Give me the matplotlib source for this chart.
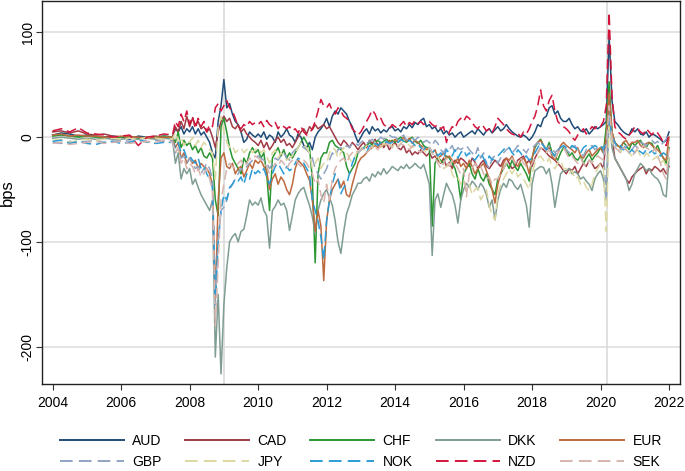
import numpy as np
import matplotlib
matplotlib.use("Agg")
import matplotlib.pyplot as plt

plt.rcParams['font.family'] = ['Liberation Sans', 'DejaVu Sans']

# time axis: quarterly 2004.0-2007.25, monthly 2007.5-2022.0
dates = np.r_[2004 + 0.25 * np.arange(14), 2007.5 + np.arange(175) / 12]

AUD = [2, 4, 3, 1, 2, 1, 0, 1, 0, -2, 1, 0, -1, 1,
       0, 8, 5, 10, 3, 8,
       5, 10, 3, 8, 2, 5, 0, -5, -15, -20, 15, 30,
       55, 28, 32, 22, 15, 12, 5, -5, -2, 5, 2, 0,
       3, 0, 5, -2, 2, 0, -5, 5, 0, 3, 8, 2,
       0, -5, 3, 0, -8, -10, -5, -12, 0, 5, 8, 12,
       18, 10, 20, 25, 22, 28, 25, 22, 15, 10, 2, -5,
       0, 5, 8, 3, 10, 6, 8, 4, 7, 5, 9, 10,
       6, 8, 5, 10, 8, 12, 9, 14, 12, 16, 18, 10,
       12, 8, 10, 5, 8, 3, 6, 2, 4, 0, 3, 5,
       0, 2, 4, 6, 3, 8, 5, 2, 6, 8, 4, 7,
       10, 6, 8, 12, 8, 5, 3, 1, 0, 2, 0, -3,
       0, 5, 12, 10, 18, 20, 28, 30, 22, 25, 18, 15,
       15, 18, 12, 8, 10, 6, 5, 8, 3, 6, 10, 8,
       10, 12, 15, 97, 35, 15, 12, 8, 5, 3, 2, 8,
       5, 8, 3, 2, 5, 0, 3, 2, 0, -2, -5, -3,
       5]

CAD = [5, 6, 4, 6, 3, 2, 3, 1, 0, 1, -1, 0, 1, 0,
       0, 10, 5, 15, 8, 20,
       10, 18, 12, 15, 8, 10, 5, 8, 0, -10, 5, 15,
       20, 15, 18, 10, 8, 12, 5, 8, 3, 0, -3, -5,
       -8, -3, -10, -5, -12, -8, -3, 0, -5, -2, -8, -6,
       -10, -5, 0, 5, 8, 3, 10, 7, 12, 8, 10, 12,
       8, 10, 5, 0, -5, -8, -3, -6, -10, -5, -8, -12,
       -8, -5, -10, -3, -6, -2, -8, -5, -10, -6, -12, -8,
       -5, -10, -12, -8, -15, -12, -17, -14, -16, -12, -15, -18,
       -15, -20, -18, -22, -25, -20, -28, -24, -30, -22, -25, -20,
       -22, -25, -28, -20, -24, -30, -25, -22, -28, -30, -26, -22,
       -25, -28, -22, -20, -25, -30, -28, -22, -20, -18, -25, -22,
       -28, -20, -15, -10, -12, -15, -18, -20, -22, -25, -28, -32,
       -35, -30, -32, -28, -35, -30, -25, -28, -22, -25, -30, -28,
       -25, -30, 0, 35, 0, -20, -25, -30, -35, -40, -44, -38,
       -35, -32, -30, -28, -35, -30, -32, -28, -30, -33, -30, -35,
       -28]

CHF = [1, 2, 1, 0, 1, 0, 0, -1, 0, 0, -1, 0, 0, 1,
       0, -5, 5, -10, -3, -8,
       -5, -12, -8, -15, -10, -18, -20, -15, -20, -60, -75, 10,
       18, 5, -10, -20, -25, -30, -35, -20, -25, -15, -10, -15,
       -12, -20, -15, -35, -70, -20, -15, -10, -18, -12, -20, -15,
       -20, -15, -10, -5, 0, -5, -10, -40, -120, -35, -20, -15,
       -15, -5, -3, -8, -10, -12, -15, -28, -35, -30, -25, -15,
       -12, -10, -8, -5, -8, -5, -3, -6, -4, -2, -5, -3,
       -5, -2, 0, -3, -5, -2, 0, -4, -6, -3, -8, -10,
       -10, -85, -25, -20, -22, -25, -18, -20, -25, -30, -40, -60,
       -35, -30, -25, -35, -40, -30, -38, -42, -35, -45, -50, -55,
       -40, -35, -30, -25, -30, -22, -28, -32, -25, -30, -35, -42,
       -20, -10, -5, -2, -8, -12, -5, -15, -18, -22, -15, -10,
       -12, -18, -15, -20, -22, -18, -25, -20, -16, -22, -18, -15,
       -10, -15, 10, 53, 5, -5, -8, -10, -5, -8, -12, -5,
       -8, -5, -3, -8, -10, -5, -6, -12, -8, -15, -20, -25,
       -10]

DKK = [-1, 0, -1, -2, -1, -2, -1, -2, -2, -1, -2, -1, -2, -1,
       -2, -25, -15, -40, -30, -35,
       -30, -45, -40, -48, -55, -60, -65, -70, -60, -210, -150, -226,
       -160, -125, -100, -95, -92, -100, -90, -88, -75, -60, -65, -62,
       -65, -58, -70, -75, -106, -70, -66, -60, -65, -63, -70, -89,
       -75, -60, -54, -50, -48, -57, -65, -76, -92, -70, -60, -54,
       -50, -58, -65, -80, -100, -111, -90, -73, -65, -55, -50, -44,
       -44, -40, -38, -42, -35, -38, -33, -36, -30, -35, -32, -28,
       -30, -32, -28, -30, -26, -30, -28, -25, -28, -30, -26, -35,
       -45, -113, -60, -54, -67, -55, -44, -50, -55, -65, -82, -60,
       -50, -44, -48, -42, -45, -50, -44, -48, -55, -67, -60, -79,
       -60, -50, -44, -48, -40, -42, -47, -50, -45, -55, -65, -86,
       -45, -32, -30, -28, -29, -35, -30, -45, -67, -50, -35, -32,
       -32, -30, -35, -33, -35, -40, -38, -42, -45, -51, -40, -35,
       -32, -40, -60, 25, -10, -20, -25, -30, -35, -40, -51, -45,
       -35, -30, -25, -28, -32, -30, -35, -38, -40, -45, -55, -57,
       -20]

EUR = [2, 3, 1, 2, 1, 1, 0, 0, 1, 0, 0, -1, 0, 0,
       0, -10, -5, -20, -15, -25,
       -20, -25, -22, -30, -25, -28, -30, -35, -45, -156, -60, -20,
       -15, -28, -30, -25, -35, -30, -28, -38, -32, -25, -30, -22,
       -25, -22, -28, -32, -50, -40, -35, -45, -38, -42, -50, -55,
       -45, -30, -22, -25, -28, -35, -41, -60, -90, -70, -85, -137,
       -80, -60, -50, -45, -40, -48, -42, -55, -57, -45, -35, -25,
       -20, -18, -15, -12, -10, -8, -10, -6, -8, -5, -3, -5,
       -2, -5, -3, 0, -4, -1, -6, -3, -5, -8, -10, -12,
       -10, -15, -12, -20, -18, -15, -20, -18, -22, -25, -20, -28,
       -25, -30, -22, -28, -35, -30, -28, -25, -32, -40, -50, -63,
       -45, -35, -25, -20, -22, -18, -25, -28, -22, -20, -25, -35,
       -20, -8, -5, -3, -8, -12, -10, -18, -22, -15, -8, -5,
       -8, -10, -12, -15, -10, -18, -20, -15, -12, -18, -15, -12,
       -10, -15, 0, 42, 5, -5, -8, -10, -5, -3, -8, -5,
       -5, -3, -8, -10, -6, -5, -8, -10, -12, -15, -20, -22,
       0]

GBP = [-5, -6, -4, -5, -4, -3, -5, -4, -3, -4, -3, -5, -3, -4,
       -3, -15, -10, -20, -18, -25,
       -20, -25, -30, -28, -35, -30, -25, -30, -40, -150, -100, -70,
       -67, -60, -50, -45, -40, -35, -30, -32, -28, -25, -22, -20,
       -18, -20, -22, -25, -30, -25, -20, -22, -18, -15, -20, -22,
       -15, -12, -10, -8, -10, -12, -15, -20, -30, -35, -40, -35,
       -30, -22, -15, -18, -12, -10, -12, -8, -10, -6, -5, -8,
       -5, -3, -6, -4, -2, -5, -3, 0, -2, 0, 2, 0,
       0, -2, 0, 2, -3, 0, -1, -3, 0, -2, -5, -3,
       -5, -8, -3, -6, -12, -15, -10, -12, -8, -15, -10, -12,
       -10, -8, -12, -15, -18, -10, -20, -15, -25, -30, -20, -18,
       -25, -20, -15, -12, -10, -15, -12, -8, -10, -12, -15, -10,
       -10, -8, -5, -8, -10, -12, -8, -10, -15, -12, -10, -8,
       -12, -15, -10, -8, -12, -15, -18, -12, -10, -8, -12, -10,
       -8, -10, -60, 20, -5, -10, -8, -12, -10, -8, -10, -12,
       -8, -10, -5, -6, -8, -5, -3, -6, -4, -8, -5, -2,
       5]

JPY = [-3, -2, -5, -3, -2, -3, -2, -1, -2, -1, -2, 0, -1, -2,
       -2, 5, -5, 0, -8, -3,
       -5, 0, -8, -3, -10, -5, -8, -12, -15, -40, 10, 20,
       5, -5, -10, -8, -15, -12, -10, -15, -12, -10, -15, -12,
       -10, -15, -12, -18, -25, -15, -12, -20, -15, -18, -22, -20,
       -18, -15, -10, -5, -8, -10, -15, -30, -25, -20, -30, -25,
       -25, -15, -10, -12, -20, -15, -10, -15, -20, -25, -18, -12,
       -10, -12, -8, -6, -10, -5, -8, -10, -6, -8, -5, -10,
       -5, -8, -6, -3, -5, -8, -10, -6, -8, -10, -12, -15,
       -10, -15, -20, -18, -25, -30, -28, -25, -35, -40, -38, -45,
       -40, -50, -45, -55, -50, -48, -60, -55, -50, -65, -75, -79,
       -55, -45, -40, -35, -30, -35, -30, -38, -35, -40, -45, -50,
       -35, -25, -20, -18, -22, -25, -20, -28, -30, -25, -22, -30,
       -30, -35, -32, -40, -38, -45, -42, -48, -51, -45, -35, -30,
       -25, -28, -90, 10, -5, -10, -12, -15, -10, -12, -15, -18,
       -15, -12, -18, -20, -15, -18, -22, -20, -18, -25, -22, -28,
       -20]

NOK = [-4, -3, -6, -4, -6, -7, -5, -4, -6, -5, -3, -4, -6, -5,
       -5, -10, -5, -15, -12, -20,
       -18, -22, -25, -20, -30, -28, -35, -40, -48, -160, -100, -70,
       -55, -60, -48, -45, -40, -42, -38, -45, -35, -40, -30, -35,
       -32, -35, -30, -38, -45, -35, -28, -25, -30, -35, -28, -32,
       -30, -25, -20, -22, -25, -30, -35, -60, -70, -80, -95, -117,
       -80, -60, -45, -35, -40, -54, -48, -45, -35, -25, -18, -15,
       -12, -10, -15, -8, -10, -6, -8, -5, -7, -4, -6, -5,
       -3, -5, -2, -4, -6, -3, -5, -8, -6, -10, -12, -8,
       -10, -15, -12, -18, -15, -20, -12, -15, -18, -12, -20, -15,
       -12, -18, -15, -20, -22, -18, -15, -20, -25, -18, -22, -20,
       -18, -15, -12, -9, -10, -15, -18, -12, -15, -20, -18, -22,
       -20, -15, -10, -5, -8, -12, -10, -15, -18, -12, -10, -8,
       -10, -12, -8, -10, -12, -15, -10, -8, -12, -10, -8, -10,
       -8, -12, -5, 20, 0, -5, -10, -8, -12, -10, -15, -12,
       -15, -12, -14, -16, -12, -15, -13, -16, -14, -18, -15, -17,
       -15]

NZD = [6, 8, 5, 9, 4, 3, 2, 0, 1, 2, -8, 0, 1, 3,
       2, 15, 10, 22, 15, 25,
       12, 20, 8, 18, 10, 15, 5, 12, 10, 28, 32, 25,
       30, 35, 28, 25, 18, 10, 8, 12, 10, 15, 12, 14,
       12, 15, 10, 16, 12, 10, 14, 8, 12, 10, 8, 10,
       6, 8, 4, 10, 5, 2, 4, 8, 15, 25, 36, 30,
       28, 32, 25, 22, 28, 25, 20, 18, 15, 8, 5, 2,
       5, 10, 15, 20, 26, 22, 15, 18, 12, 10, 8, 12,
       10, 8, 12, 15, 10, 14, 12, 16, 13, 15, 12, 14,
       15, 12, 10, 12, 8, 10, -5, 5, 10, 8, 15, 18,
       15, 20, 18, 14, 10, 8, 12, 10, 6, 8, 4, 10,
       18, 15, 12, 8, 5, 3, 2, 4, 0, 5, 3, 8,
       15, 20, 30, 45, 30, 25, 35, 40, 25, 15, 12, 10,
       8, 5, 0, -3, 2, 5, 8, 3, 6, 10, 8, 12,
       10, 15, 30, 119, 40, 10, 5, 3, 0, -2, 2, 5,
       10, 8, 5, 3, 8, 5, 2, 6, 4, 0, -5, -8,
       3]

SEK = [-6, -5, -7, -6, -5, -4, -6, -5, -4, -6, -5, -4, -5, -3,
       -5, -15, -10, -25, -20, -30,
       -25, -28, -35, -30, -38, -35, -30, -40, -50, -180, -120, -60,
       -45, -30, -25, -28, -30, -25, -22, -28, -25, -20, -22, -18,
       -20, -22, -25, -28, -35, -30, -25, -28, -22, -25, -30, -25,
       -22, -20, -25, -28, -22, -25, -30, -35, -45, -40, -55, -63,
       -45, -60, -40, -30, -25, -22, -20, -25, -18, -15, -12, -15,
       -12, -10, -15, -12, -8, -10, -12, -8, -10, -6, -8, -10,
       -8, -10, -6, -8, -10, -12, -8, -10, -12, -15, -10, -12,
       -10, -15, -20, -25, -30, -25, -20, -28, -22, -25, -30, -35,
       -30, -57, -35, -30, -25, -30, -28, -35, -40, -38, -45, -40,
       -40, -35, -30, -25, -22, -20, -25, -22, -20, -25, -28, -30,
       -25, -20, -15, -10, -12, -15, -12, -18, -20, -15, -12, -10,
       -15, -20, -18, -22, -25, -20, -25, -28, -22, -25, -20, -18,
       -20, -22, -10, 30, 0, -10, -12, -15, -10, -12, -15, -18,
       -15, -10, -12, -8, -10, -12, -15, -10, -18, -25, -35, -40,
       -10]

names = ['AUD', 'CAD', 'CHF', 'DKK', 'EUR', 'GBP', 'JPY', 'NOK', 'NZD', 'SEK']
series = [AUD, CAD, CHF, DKK, EUR, GBP, JPY, NOK, NZD, SEK]
for n, s in zip(names, series):
    assert len(s) == len(dates), (n, len(s), len(dates))

colors = {'AUD': '#1f4b78', 'CAD': '#a03b45', 'CHF': '#2a9632', 'DKK': '#7f9d92',
          'EUR': '#bd6a3e', 'GBP': '#8fa3c1', 'JPY': '#dcd8a2', 'NOK': '#2b9cd6',
          'NZD': '#d2143c', 'SEK': '#d7b5ae'}
dashed = {'GBP', 'JPY', 'NOK', 'NZD', 'SEK'}

fig = plt.figure(figsize=(6.85, 4.71), dpi=100)
ax = fig.add_axes([41.7 / 685, 87 / 471, 638.3 / 685, 383 / 471])

for yv in [100, 0, -100, -200]:
    ax.axhline(yv, color='#e2e2e2', lw=1.3, zorder=0)
for xv in [2009.0, 2020.2]:
    ax.axvline(xv, color='#dddddd', lw=1.3, zorder=0.5)

handles = {}
for n, s in zip(names, series):
    kw = dict(color=colors[n], lw=1.1, label=n, zorder=2)
    if n in dashed:
        kw['dashes'] = (6.5, 3.2)
    (h,) = ax.plot(dates, s, **kw)
    handles[n] = h

ax.set_xlim(2003.68, 2022.32)
ax.set_ylim(-235.7, 130)
ax.set_xticks(range(2004, 2023, 2))
ax.set_yticks([-200, -100, 0, 100])
ax.set_yticklabels(['-200', '-100', '0', '100'])
ax.tick_params(axis='both', labelsize=10, length=4, width=0.8, direction='out', color='#333333')
ax.tick_params(axis='x', pad=4.3)
ax.tick_params(axis='y', pad=1.0)
plt.setp(ax.get_yticklabels(), rotation=90, va='center')
for sp in ax.spines.values():
    sp.set_linewidth(1.0)
    sp.set_color('#222222')

fig.text(7.5 / 685, 1 - 192.5 / 471, 'bps', rotation=90, ha='center', va='center', fontsize=12)

order = ['AUD', 'GBP', 'CAD', 'JPY', 'CHF', 'NOK', 'DKK', 'NZD', 'EUR', 'SEK']
leg = fig.legend([handles[n] for n in order], order, ncol=5, loc='center',
                 bbox_to_anchor=(361 / 685, 1 - 451.5 / 471), frameon=False, fontsize=10,
                 handlelength=4.6, handletextpad=0.6, columnspacing=1.7, labelspacing=0.55,
                 borderpad=0.2)
for line in leg.get_lines():
    line.set_linewidth(1.4)

fig.savefig('out.png', dpi=100)
